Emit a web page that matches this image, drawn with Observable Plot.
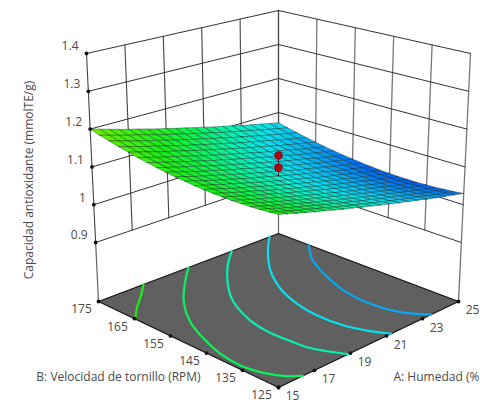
<!DOCTYPE html>
<html>
<head>
<meta charset="utf-8">
<style>html,body{margin:0;padding:0;background:#fff}svg{display:block}</style>
<script src="https://cdn.jsdelivr.net/npm/d3@7"></script>
<script src="https://cdn.jsdelivr.net/npm/@observablehq/plot@0.6"></script>
</head>
<body>
<div id="chart"></div>
<script>
const humedadTicks = [15, 17, 19, 21, 23, 25];
const velocidadTicks = [125, 135, 145, 155, 165, 175];
const respuestaTicks = [0.9, 1, 1.1, 1.2, 1.3, 1.4];
const pisoZ = 0.744;
const techoZ = 1.4;

// Surface. Columns: A = 15 ... 25 by 0.5. Rows: B = 125 ... 175 by 2.5.
const superficie = [
[1.160,1.153,1.146,1.139,1.132,1.126,1.119,1.112,1.106,1.099,1.093,1.086,1.080,1.073,1.067,1.061,1.054,1.048,1.042,1.036,1.030],
[1.157,1.150,1.143,1.136,1.130,1.123,1.116,1.109,1.103,1.096,1.090,1.083,1.077,1.070,1.064,1.058,1.052,1.045,1.039,1.033,1.027],
[1.155,1.148,1.141,1.134,1.127,1.121,1.114,1.107,1.101,1.094,1.088,1.081,1.075,1.068,1.062,1.056,1.049,1.043,1.037,1.031,1.025],
[1.153,1.146,1.139,1.132,1.126,1.119,1.112,1.105,1.099,1.092,1.086,1.079,1.073,1.066,1.060,1.054,1.048,1.041,1.035,1.029,1.023],
[1.152,1.145,1.138,1.131,1.124,1.118,1.111,1.104,1.098,1.091,1.085,1.078,1.072,1.065,1.059,1.053,1.046,1.040,1.034,1.028,1.022],
[1.151,1.144,1.137,1.130,1.124,1.117,1.110,1.103,1.097,1.090,1.084,1.077,1.071,1.064,1.058,1.052,1.046,1.039,1.033,1.027,1.021],
[1.151,1.144,1.137,1.130,1.123,1.117,1.110,1.103,1.097,1.090,1.084,1.077,1.071,1.064,1.058,1.052,1.045,1.039,1.033,1.027,1.021],
[1.151,1.144,1.137,1.130,1.124,1.117,1.110,1.103,1.097,1.090,1.084,1.077,1.071,1.064,1.058,1.052,1.046,1.039,1.033,1.027,1.021],
[1.152,1.145,1.138,1.131,1.124,1.118,1.111,1.104,1.098,1.091,1.085,1.078,1.072,1.065,1.059,1.053,1.046,1.040,1.034,1.028,1.022],
[1.153,1.146,1.139,1.132,1.126,1.119,1.112,1.105,1.099,1.092,1.086,1.079,1.073,1.066,1.060,1.054,1.048,1.041,1.035,1.029,1.023],
[1.155,1.148,1.141,1.134,1.127,1.121,1.114,1.107,1.101,1.094,1.088,1.081,1.075,1.068,1.062,1.056,1.049,1.043,1.037,1.031,1.025],
[1.157,1.150,1.143,1.136,1.130,1.123,1.116,1.109,1.103,1.096,1.090,1.083,1.077,1.070,1.064,1.058,1.052,1.045,1.039,1.033,1.027],
[1.160,1.153,1.146,1.139,1.132,1.126,1.119,1.112,1.106,1.099,1.093,1.086,1.080,1.073,1.067,1.061,1.054,1.048,1.042,1.036,1.030],
[1.163,1.156,1.149,1.142,1.136,1.129,1.122,1.115,1.109,1.102,1.096,1.089,1.083,1.076,1.070,1.064,1.058,1.051,1.045,1.039,1.033],
[1.167,1.160,1.153,1.146,1.139,1.133,1.126,1.119,1.113,1.106,1.100,1.093,1.087,1.080,1.074,1.068,1.061,1.055,1.049,1.043,1.037],
[1.171,1.164,1.157,1.150,1.144,1.137,1.130,1.123,1.117,1.110,1.104,1.097,1.091,1.084,1.078,1.072,1.066,1.059,1.053,1.047,1.041],
[1.176,1.169,1.162,1.155,1.148,1.142,1.135,1.128,1.122,1.115,1.109,1.102,1.096,1.089,1.083,1.077,1.070,1.064,1.058,1.052,1.046],
[1.181,1.174,1.167,1.160,1.154,1.147,1.140,1.133,1.127,1.120,1.114,1.107,1.101,1.094,1.088,1.082,1.076,1.069,1.063,1.057,1.051],
[1.187,1.180,1.173,1.166,1.159,1.153,1.146,1.139,1.133,1.126,1.120,1.113,1.107,1.100,1.094,1.088,1.081,1.075,1.069,1.063,1.057],
[1.193,1.186,1.179,1.172,1.166,1.159,1.152,1.145,1.139,1.132,1.126,1.119,1.113,1.106,1.100,1.094,1.088,1.081,1.075,1.069,1.063],
[1.200,1.193,1.186,1.179,1.172,1.166,1.159,1.152,1.146,1.139,1.133,1.126,1.120,1.113,1.107,1.101,1.094,1.088,1.082,1.076,1.070]
];

// Contours on the floor, as [A, B] pairs.
const contornoNiveles = [1.15, 1.125, 1.1, 1.075, 1.05];
const contornos = [
[[17.5,175],[16.7,171.7],[15.8,168.3],[15.05,165]],
[[20,175],[18.66,169.4],[17.54,164],[16.45,156.7],[15.8,149.7],[15.36,142.9],[15.23,136.7],[15.45,131.3],[15.86,127.3],[16.35,125]],
[[22.4,175],[21.28,170.5],[20.24,165.4],[19.33,160],[18.79,155.6],[18.28,149.2],[18.06,142.5],[18.11,137.2],[18.19,133],[18.49,128.9],[18.87,125]],
[[24.5,175],[23.47,170.3],[22.15,163],[21.19,155.4],[20.66,148.1],[20.45,141.5],[20.53,134.5],[20.83,129.5],[21.25,125]],
[[25,166.6],[24.1,161.2],[23.38,154.3],[22.79,145.8],[22.62,137.6],[22.86,130.4],[23.47,125]]
];

const puntosA = [20, 20];
const puntosB = [150, 150];
const puntosZ = [1.142, 1.11];

const colorValores = [1.03, 1.05, 1.075, 1.1, 1.125, 1.15, 1.2];
const colorTonos = ["#0070f0", "#08a8f0", "#08e0f0", "#08f0b0", "#10f058", "#18f018", "#70f000"];

// Camera of the 3D box: data to picture space.
function camara(a, b, z) {
  const u = (a - 15) / 10, v = (b - 125) / 50, t = (z - pisoZ) / (techoZ - pisoZ);
  return {
    x: 278 + 180 * (u - v) * (1 + 0.0667 * t),
    y: 387 - 86 * (u + v) + 18 * u * v - (273 - 25 * (u + v)) * t
  };
}

const gridA = d3.range(21).map(i => 15 + i * 0.5);
const gridB = d3.range(21).map(j => 125 + j * 2.5);

const celdas = [];
for (let j = 19; j >= 0; j--) for (let i = 19; i >= 0; i--) {
  const val = (superficie[j][i] + superficie[j][i + 1] + superficie[j + 1][i] + superficie[j + 1][i + 1]) / 4;
  [[i, j], [i + 1, j], [i + 1, j + 1], [i, j + 1], [i, j]].forEach(([m, n]) => {
    celdas.push({...camara(gridA[m], gridB[n], superficie[n][m]), id: j * 21 + i, val});
  });
}

const [aMin, aMax] = d3.extent(humedadTicks);
const [bMin, bMax] = d3.extent(velocidadTicks);
const zWall = d3.min(respuestaTicks);

const segmento = (pts, id) => pts.map(p => ({...camara(...p), id}));
const murosH = respuestaTicks.flatMap((z, k) => segmento([[aMin, bMax, z], [aMax, bMax, z], [aMax, bMin, z]], k));
const murosVizq = humedadTicks.flatMap((a, k) => segmento([[a, bMax, zWall], [a, bMax, techoZ]], k));
const murosVder = velocidadTicks.flatMap((b, k) => segmento([[aMax, b, zWall], [aMax, b, techoZ]], k));
const aristas = [[aMin, bMax], [aMax, bMax], [aMax, bMin]].flatMap((c, k) => segmento([[c[0], c[1], pisoZ], [c[0], c[1], zWall]], k));
const piso = segmento([[aMin, bMin, pisoZ], [aMax, bMin, pisoZ], [aMax, bMax, pisoZ], [aMin, bMax, pisoZ], [aMin, bMin, pisoZ]], 0);
const lineasContorno = contornos.flatMap((c, k) => c.map(([a, b]) => ({...camara(a, b, pisoZ), id: k, nivel: contornoNiveles[k]})));

const ticksZ = respuestaTicks.map(z => ({...camara(aMin, bMax, z), label: String(z)}));
const ticksB = velocidadTicks.map(b => ({...camara(aMin, b, pisoZ), label: String(b)}));
const ticksA = humedadTicks.map(a => ({...camara(a, bMin, pisoZ), label: String(a)}));
const puntos = puntosZ.map((z, k) => camara(puntosA[k], puntosB[k], z));
const centroZ = superficie[10][10];
const tallos = puntosZ.flatMap((z, k) => segmento([[puntosA[k], puntosB[k], z], [puntosA[k], puntosB[k], centroZ]], k));

const colorTexto = "#4a4a4a";
const fuente = 12;

const chart = Plot.plot({
  width: 480,
  height: 403,
  margin: 0,
  style: {background: "#fff", fontFamily: "'Open Sans', sans-serif"},
  x: {domain: [0, 480], range: [0, 480], axis: null},
  y: {domain: [0, 403], range: [0, 403], axis: null},
  color: {type: "linear", domain: colorValores, range: colorTonos},
  marks: [
    Plot.line(murosVder, {x: "x", y: "y", z: "id", stroke: "#777", strokeWidth: 1.3}),
    Plot.line(murosVizq, {x: "x", y: "y", z: "id", stroke: "#444", strokeWidth: 1.1}),
    Plot.line(murosH, {x: "x", y: "y", z: "id", stroke: "#333", strokeWidth: 1}),
    Plot.line(aristas, {x: "x", y: "y", z: "id", stroke: "#666", strokeWidth: 1.2}),
    Plot.line(piso, {x: "x", y: "y", fill: "#606060", stroke: "#111", strokeWidth: 1.3}),
    Plot.line(lineasContorno, {x: "x", y: "y", z: "id", stroke: "nivel", strokeWidth: 2.2, curve: "catmull-rom"}),
    Plot.line(celdas, {x: "x", y: "y", z: "id", fill: "val", stroke: "#102018", strokeWidth: 0.55, strokeOpacity: 0.7}),
    Plot.line(tallos, {x: "x", y: "y", z: "id", stroke: "#402020", strokeWidth: 1}),
    Plot.dot(puntos, {x: "x", y: "y", r: 3.8, fill: "#b80018", stroke: "#700010", strokeWidth: 0.8}),
    Plot.dot([...ticksZ, ...ticksB, ...ticksA], {x: "x", y: "y", r: 1.9, fill: "#111"}),
    Plot.text(ticksZ, {x: "x", y: "y", text: "label", dx: -8, dy: -7, textAnchor: "end", fontSize: fuente, fill: colorTexto}),
    Plot.text(ticksB, {x: "x", y: "y", text: "label", dx: -17, dy: 8, fontSize: fuente, fill: colorTexto}),
    Plot.text(ticksA, {x: "x", y: "y", text: "label", dx: 14, dy: 9, fontSize: fuente, fill: colorTexto}),
    Plot.text([camara(15, 150, pisoZ)], {x: "x", y: "y", text: () => "B: Velocidad de tornillo (RPM)", dx: -70, dy: 33, fontSize: fuente, fill: colorTexto}),
    Plot.text([camara(20, 125, pisoZ)], {x: "x", y: "y", text: () => "A: Humedad (%", dx: 25, dy: 33, textAnchor: "start", fontSize: fuente, fill: colorTexto}),
    Plot.text([camara(15, 175, 1.15)], {x: "x", y: "y", text: () => "Capacidad antioxidante (mmolTE/g)", dx: -62, dy: 32, rotate: -90, fontSize: fuente, fill: colorTexto})
  ]
});
document.getElementById("chart").appendChild(chart);
</script>
</body>
</html>
